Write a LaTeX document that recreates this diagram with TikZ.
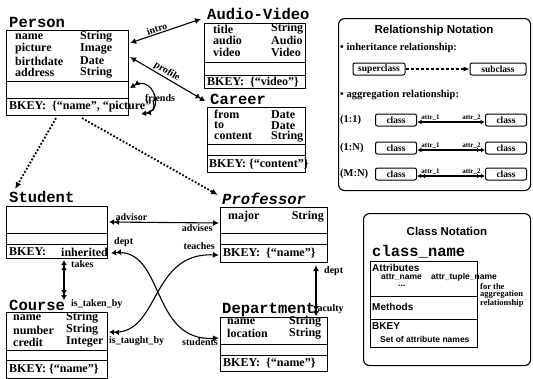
\documentclass[tikz,border=0pt]{standalone}
\usepackage{fontspec}
\setmainfont{Liberation Serif}
\newfontfamily\ttb{Liberation Mono}
\newfontfamily\sfb{Liberation Sans}
\usetikzlibrary{arrows.meta,calc}
\tikzset{
  sgl/.tip={Latex[length=6pt,width=6pt]},
  dbl/.tip={Latex[length=5pt,width=6pt]Latex[length=5pt,width=6pt]},
  ssg/.tip={Latex[length=4.5pt,width=4.5pt]},
  sdb/.tip={Latex[length=4pt,width=4.5pt]Latex[length=4pt,width=4.5pt]},
  box/.style={draw,line width=1.1pt,inner sep=0pt,anchor=north west},
  rbox/.style={draw,line width=1.1pt,rounded corners=6pt,inner sep=0pt,anchor=north west},
  ttl/.style={font=\ttb\bfseries\fontsize{15.5}{15}\selectfont,anchor=west,inner sep=0pt},
  att/.style={font=\bfseries\fontsize{12}{12}\selectfont,anchor=west,inner sep=0pt},
  tpe/.style={font=\bfseries\fontsize{12}{12}\selectfont,anchor=east,inner sep=0pt},
  lbl/.style={font=\bfseries\fontsize{10}{10}\selectfont,inner sep=1pt},
  nt/.style={font=\bfseries\fontsize{10.5}{10}\selectfont,anchor=west,inner sep=0pt},
  sbox/.style={draw,line width=1pt,rounded corners=2pt,font=\bfseries\fontsize{9.5}{9}\selectfont,inner sep=1.5pt,minimum height=12pt},
  tiny/.style={font=\bfseries\fontsize{7}{7}\selectfont,inner sep=1pt},
  sa/.style={font=\sfb\bfseries\fontsize{10}{10}\selectfont,anchor=west,inner sep=0pt},
  sas/.style={font=\sfb\bfseries\fontsize{8.5}{8}\selectfont,anchor=west,inner sep=0pt},
  hd/.style={font=\sfb\bfseries\fontsize{11.5}{12}\selectfont,inner sep=0pt},
  conn/.style={line width=1.1pt},
  div/.style={line width=1pt},
  inh/.style={line width=1.8pt,dash pattern=on 1.8pt off 1.8pt,-{Latex[length=7pt,width=6pt]}},
}
\begin{document}
\begin{tikzpicture}[x=1pt,y=-1pt]
\useasboundingbox (0,0) rectangle (533,378);

% ---------- Person
\node[ttl] (personT) at (9,22) {Person};
\node[box,minimum width=122pt,minimum height=85pt] (person) at (6,30) {};
\draw[div] (6,81) -- (128,81) (6,98) -- (128,98);
\node[att] (pa1) at (15,37) {name};      \node[att] (pt1) at (80,37) {String};
\node[att] (pa2) at (15,49) {picture};   \node[att] (pt2) at (80,49) {Image};
\node[att] (pa3) at (15,61) {birthdate}; \node[att] (pt3) at (80,61) {Date};
\node[att] (pa4) at (15,72.5) {address};   \node[att] (pt4) at (80,72.5) {String};
\node[att] (pk) at (9,107) {BKEY:\ \ \{``name'', ``picture''\}};

% ---------- Audio-Video
\node[ttl] (avT) at (207,14) {Audio-Video};
\node[box,minimum width=101pt,minimum height=65pt] (av) at (204,23) {};
\draw[div] (204,62) -- (305,62) (204,75) -- (305,75);
\node[att] (aa1) at (213,29) {title}; \node[att] (at1) at (271,29) {String};
\node[att] (aa2) at (213,40.5) {audio}; \node[att] (at2) at (271,40.5) {Audio};
\node[att] (aa3) at (213,52) {video}; \node[att] (at3) at (271,52) {Video};
\node[att] (ak) at (207,82) {BKEY:\ \ \{``video''\}};

% ---------- Career
\node[ttl] (caT) at (210,99) {Career};
\node[box,minimum width=98pt,minimum height=65pt] (ca) at (207,107) {};
\draw[div] (207,144) -- (305,144) (207,155) -- (305,155);
\node[att] (ca1) at (214,114.5) {from};    \node[att] (ct1) at (271,114.5) {Date};
\node[att] (ca2) at (214,125.5) {to};      \node[att] (ct2) at (271,125.5) {Date};
\node[att] (ca3) at (214,136.5) {content}; \node[att] (ct3) at (271,136.5) {String};
\node[att] (ck) at (209,164) {BKEY:\ \{``content''\}};

% ---------- Student
\node[ttl] (stT) at (9,197) {Student};
\node[box,minimum width=101pt,minimum height=52pt] (st) at (6,206) {};
\draw[div] (6,233) -- (107,233) (6,244) -- (107,244);
\node[att] (sk) at (9,252) {BKEY:};
\node[att] (sk2) at (61,252) {inherited};

% ---------- Professor
\node[ttl,font=\ttb\bfseries\itshape\fontsize{15.5}{15}\selectfont] (prT) at (222,199) {Professor};
\node[box,minimum width=107pt,minimum height=55pt] (pr) at (220,207) {};
\draw[div] (220,233) -- (327,233) (220,244) -- (327,244);
\node[att] (pra1) at (228,217) {major}; \node[tpe] (prt1) at (324,217) {String};
\node[att] (prk) at (223,253) {BKEY:\ \ \{``name''\}};

% ---------- Course
\node[ttl] (coT) at (9,305) {Course};
\node[box,minimum width=101pt,minimum height=66pt] (co) at (6,312) {};
\draw[div] (6,350) -- (107,350) (6,360) -- (107,360);
\node[att] (coa1) at (13,318) {name};   \node[att] (cot1) at (66,318) {String};
\node[att] (coa2) at (13,330) {number}; \node[att] (cot2) at (66,330) {String};
\node[att] (coa3) at (13,342) {credit}; \node[att] (cot3) at (66,342) {Integer};
\node[att] (cok) at (9,369) {BKEY:\ \{``name''\}};

% ---------- Department
\node[ttl] (deT) at (222,310) {Department};
\node[box,minimum width=107pt,minimum height=54pt] (de) at (220,317) {};
\draw[div] (220,344) -- (327,344) (220,355) -- (327,355);
\node[att] (dea1) at (227,322) {name};     \node[att] (det1) at (289,322) {String};
\node[att] (dea2) at (227,333.5) {location}; \node[att] (det2) at (289,333.5) {String};
\node[att] (dek) at (223,363) {BKEY:\ \ \{``name''\}};

% ---------- connectors
\draw[conn,{sgl}-{sgl}] ($(person.north east)+(1,13)$) -- ($(avT.west)+(-6,5)$)
  node[lbl,pos=0.4,sloped,above] (lintro) {intro};
\draw[conn,{sgl}-{dbl}] ($(person.north east)+(1,27)$) -- ($(caT.west)+(-5,2)$)
  node[lbl,pos=0.45,sloped,above] (lprofile) {profile};
\draw[conn,{dbl}-{dbl}] ($(person.north east)+(1,58)$) .. controls (152,74) and (166,110) .. ($(person.south east)+(12,-2)$);
\node[lbl] (lfriends) at (160,98) {friends};

\draw[inh] ($(person.south west)+(50,2)$) -- ($(stT.north west)+(6,-2)$);
\draw[inh] ($(person.south west)+(76,2)$) -- ($(prT.west)+(-4,-4)$);

\draw[conn,{dbl}-{sgl}] ($(st.north east)+(1,16)$) -- ($(pr.north west)+(-1,16)$)
  node[lbl,pos=0,anchor=south west,xshift=5pt] (ladvisor) {advisor}
  node[lbl,pos=1,anchor=north east,xshift=-5pt] (ladvises) {advises};

\draw[conn,{dbl}-{dbl}] ($(st.south west)+(58,1)$) -- ($(co.north west)+(58,-12)$);
\node[lbl,anchor=west] (ltakes) at (70,264) {takes};
\node[lbl,anchor=west] (ltakenby) at (70,304) {is\_taken\_by};

\draw[conn,{dbl}-{sgl}] ($(st.south east)+(3,-6)$) .. controls (165,248) and (150,342) .. ($(de.north west)+(-1,21)$);
\node[lbl,anchor=south west] (ldept) at (113,248) {dept};
\node[lbl,anchor=north east] (lstudents) at (219,337) {students};

\draw[conn,{dbl}-{sgl}] ($(co.north east)+(1,20)$) .. controls (160,334) and (150,252) .. ($(pr.south west)+(-1,-8)$);
\node[lbl,anchor=south east] (lteaches) at (216,251) {teaches};
\node[lbl,anchor=north west] (ltaught) at (108,335) {is\_taught\_by};

\draw[conn,{sgl}-{dbl}] ($(pr.south west)+(96,2)$) -- ($(de.north west)+(96,-1)$);
\node[lbl,anchor=west] (ldept2) at (323,271) {dept};
\node[lbl,anchor=west] (lfaculty) at (313,309) {faculty};

% ---------- Relationship Notation
\node[rbox,minimum width=192pt,minimum height=172pt] (relbox) at (338,18) {};
\node[hd] (relT) at (434,31) {Relationship Notation};
\node[nt] (inhL) at (340,48) {\textbullet\ inheritance relationship:};
\node[sbox,minimum width=52pt] (sup) at (379,69) {superclass};
\node[sbox,minimum width=56pt] (sub) at (498,69) {subclass};
\draw[conn,dash pattern=on 3pt off 2pt,-{Latex[length=6pt,width=5pt]}] (sup) -- (sub);
\node[nt] (aggL) at (340,95) {\textbullet\ aggregation relationship:};

\node[nt] (r1) at (340,120) {(1:1)};
\node[sbox,minimum width=41pt] (c1a) at (396,120) {class};
\node[sbox,minimum width=41pt] (c1b) at (506,120) {class};
\draw[conn,{ssg}-{ssg}] ($(c1a.east)+(0,2)$) -- ($(c1b.west)+(0,2)$)
  node[tiny,pos=0.2,above] (l1a) {attr\_1} node[tiny,pos=0.8,above] (l1b) {attr\_2};

\node[nt] (r2) at (340,148) {(1:N)};
\node[sbox,minimum width=41pt] (c2a) at (396,148) {class};
\node[sbox,minimum width=41pt] (c2b) at (506,148) {class};
\draw[conn,{ssg}-{sdb}] ($(c2a.east)+(0,2)$) -- ($(c2b.west)+(0,2)$)
  node[tiny,pos=0.2,above] (l2a) {attr\_1} node[tiny,pos=0.8,above] (l2b) {attr\_2};

\node[nt] (r3) at (340,174) {(M:N)};
\node[sbox,minimum width=41pt] (c3a) at (396,174) {class};
\node[sbox,minimum width=41pt] (c3b) at (506,174) {class};
\draw[conn,{sdb}-{sdb}] ($(c3a.east)+(0,2)$) -- ($(c3b.west)+(0,2)$)
  node[tiny,pos=0.2,above] (l3a) {attr\_1} node[tiny,pos=0.8,above] (l3b) {attr\_2};

% ---------- Class Notation
\node[rbox,minimum width=167pt,minimum height=152pt] (clsbox) at (363,213) {};
\node[hd] (clsT) at (447,231) {Class Notation};
\node[ttl] (cnT) at (372,252) {class\_name};
\node[box,minimum width=107pt,minimum height=86pt] (cn) at (370,261) {};
\draw[div] (370,296) -- (477,296) (370,319) -- (477,319);
\node[sa] (cA) at (372,268) {Attributes};
\node[sas] (cA1) at (381,277) {attr\_name};
\node[sas] (cA2) at (431,277) {attr\_tuple\_name};
\node[sas] (cA3) at (398,286) {...};
\node[font=\bfseries\fontsize{8.5}{7.5}\selectfont,anchor=north west,align=left,inner sep=0pt] (cfor) at (480,283) {for the\\aggregation\\relationship};
\node[sa] (cM) at (372,307) {Methods};
\node[sa] (cB) at (372,326) {BKEY};
\node[sas] (cS) at (380,339) {Set of attribute names};
\end{tikzpicture}
\end{document}
